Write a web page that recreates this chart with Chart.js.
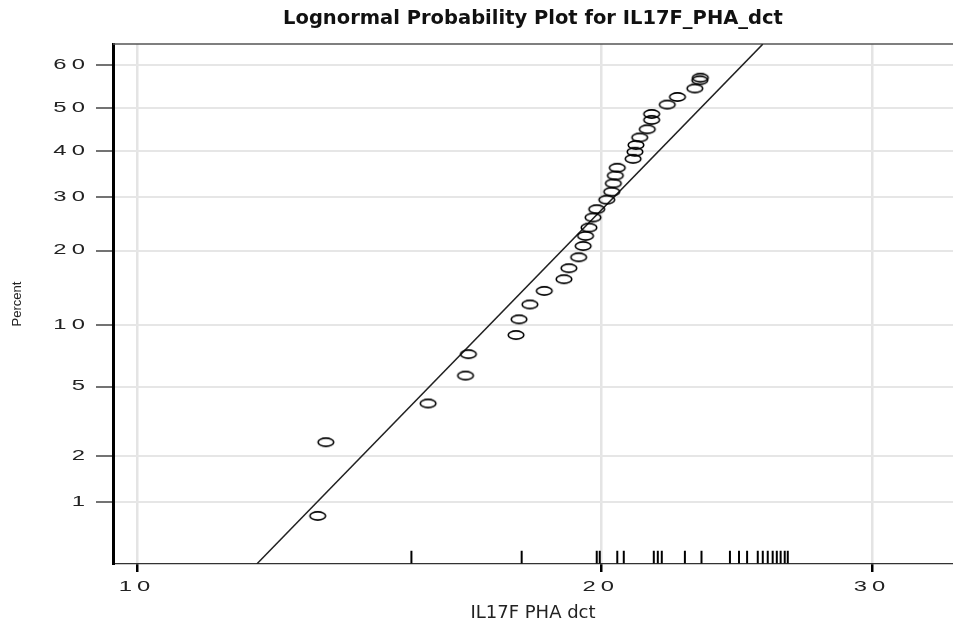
<!DOCTYPE html>
<html>
<head>
<meta charset="utf-8">
<title>Lognormal Probability Plot for IL17F_PHA_dct</title>
<script src="https://cdn.jsdelivr.net/npm/chart.js@4.4.1/dist/chart.umd.min.js"></script>
<style>
  html, body { margin: 0; padding: 0; background: #fff; }
  #plot { display: block; }
</style>
</head>
<body>
<canvas id="plot" width="953" height="626"></canvas>
<script>
// plotted points (value, cumulative percent)
const circleX = [13.10, 13.26, 15.45, 16.34, 16.41, 17.62, 17.70, 17.99, 18.38, 18.93,
                 19.07, 19.35, 19.48, 19.55, 19.65, 19.77, 19.88, 20.18, 20.33, 20.38,
                 20.44, 20.50, 20.99, 21.05, 21.08, 21.20, 21.44, 21.58, 21.58, 22.09,
                 22.43, 23.02, 23.19, 23.21];
const circlePct = [0.80, 2.42, 4.05, 5.7, 7.3, 9.0, 10.6, 12.3, 14.0, 15.6,
                   17.2, 18.9, 20.75, 22.5, 24.0, 25.9, 27.5, 29.4, 31.05, 32.8,
                   34.5, 36.2, 38.2, 39.8, 41.35, 43.1, 45.0, 47.2, 48.6, 50.8,
                   52.6, 54.6, 56.5, 57.1];

// rug marks along the bottom
const rugX = [15.07, 17.77, 19.88, 19.97, 20.50, 20.70, 21.65, 21.78, 21.91, 22.68,
              23.25, 24.26, 24.59, 24.89, 25.29, 25.48, 25.67, 25.86, 26.02, 26.17,
              26.33, 26.45];
const rugLevel = 0.4; // percent

// fitted lognormal line (two ends)
const fitX = [11.96, 25.48];
const fitPct = [0.354, 64.7];

// axes
const xTicks = [10, 20, 30];
const xRange = [9.647, 33.86];
const pctTicks = [1, 2, 5, 10, 20, 30, 40, 50, 60];
const pctRange = [0.354, 64.73];

// inverse normal cdf (Acklam)
function probit(p) {
  const a = [-3.969683028665376e+01, 2.209460984245205e+02, -2.759285104469687e+02,
             1.383577518672690e+02, -3.066479806614716e+01, 2.506628277459239e+00];
  const b = [-5.447609879822406e+01, 1.615858368580409e+02, -1.556989798598866e+02,
             6.680131188771972e+01, -1.328068155288572e+01];
  const c = [-7.784894002430293e-03, -3.223964580411365e-01, -2.400758277161838e+00,
             -2.549732539343734e+00, 4.374664141464968e+00, 2.938163982698783e+00];
  const d = [7.784695709041462e-03, 3.224671290700398e-01, 2.445134137142996e+00,
             3.754408661907416e+00];
  const pl = 0.02425;
  let q, r;
  if (p < pl) {
    q = Math.sqrt(-2 * Math.log(p));
    return (((((c[0]*q+c[1])*q+c[2])*q+c[3])*q+c[4])*q+c[5]) / ((((d[0]*q+d[1])*q+d[2])*q+d[3])*q+1);
  }
  if (p <= 1 - pl) {
    q = p - 0.5; r = q * q;
    return (((((a[0]*r+a[1])*r+a[2])*r+a[3])*r+a[4])*r+a[5])*q / (((((b[0]*r+b[1])*r+b[2])*r+b[3])*r+b[4])*r+1);
  }
  q = Math.sqrt(-2 * Math.log(1 - p));
  return -(((((c[0]*q+c[1])*q+c[2])*q+c[3])*q+c[4])*q+c[5]) / ((((d[0]*q+d[1])*q+d[2])*q+d[3])*q+1);
}
const z = pct => probit(pct / 100);

// tick labels in the original look wide, so draw them stretched sideways
const tickStretch = 1.7;
function drawStretchedTicks(scale) {
  const ctx = scale.ctx;
  for (const item of scale.getLabelItems()) {
    const o = item.options;
    ctx.save();
    ctx.translate(o.translation[0], o.translation[1]);
    ctx.scale(tickStretch, 1);
    ctx.font = item.font.string;
    ctx.fillStyle = o.color;
    ctx.textAlign = o.textAlign;
    ctx.textBaseline = o.textBaseline;
    ctx.letterSpacing = '3px';
    ctx.fillText(item.label, 0, item.textOffset);
    ctx.restore();
  }
}
class WideLinear extends Chart.LinearScale {
  drawLabels() { drawStretchedTicks(this); }
}
WideLinear.id = 'wideLinear';
class WideLog extends Chart.LogarithmicScale {
  drawLabels() { drawStretchedTicks(this); }
}
WideLog.id = 'wideLog';
Chart.register(WideLinear, WideLog);

// open ellipse marker
const marker = document.createElement('canvas');
marker.width = 20; marker.height = 12;
(function () {
  const m = marker.getContext('2d');
  m.strokeStyle = '#000';
  m.lineWidth = 1.6;
  m.beginPath();
  m.ellipse(10, 6, 7.8, 4.1, 0, 0, Math.PI * 2);
  m.stroke();
})();

// thin frame line on top of the plot area
const topFrame = {
  id: 'topFrame',
  beforeDatasetsDraw(chart) {
    const { ctx, chartArea: a } = chart;
    ctx.save();
    ctx.strokeStyle = '#555';
    ctx.lineWidth = 1.5;
    ctx.beginPath();
    ctx.moveTo(a.left, a.top);
    ctx.lineTo(a.right, a.top);
    ctx.stroke();
    ctx.restore();
  }
};

const tickFont = { family: 'Liberation Sans', size: 14 };

new Chart(document.getElementById('plot'), {
  type: 'scatter',
  data: {
    datasets: [
      {
        label: 'IL17F_PHA_dct',
        data: circleX.map((x, i) => ({ x: x, y: z(circlePct[i]) })),
        pointStyle: marker,
        pointRadius: 8
      },
      {
        type: 'line',
        label: 'Fit',
        data: fitX.map((x, i) => ({ x: x, y: z(fitPct[i]) })),
        borderColor: '#222',
        borderWidth: 1.5,
        pointRadius: 0,
        fill: false
      },
      {
        label: 'Rug',
        data: rugX.map(x => ({ x: x, y: z(rugLevel) })),
        pointStyle: 'line',
        rotation: 90,
        pointRadius: 6.3,
        borderColor: '#000',
        borderWidth: 2
      }
    ]
  },
  options: {
    responsive: false,
    animation: false,
    layout: { padding: 0, autoPadding: false },
    plugins: {
      legend: { display: false },
      tooltip: { enabled: false },
      title: {
        display: true,
        text: 'Lognormal Probability Plot for IL17F_PHA_dct',
        fullSize: false,
        color: '#111',
        font: { family: 'DejaVu Sans', size: 19.5, weight: 'bold' },
        padding: { top: 7, bottom: 13.6 }
      }
    },
    scales: {
      x: {
        type: 'wideLog',
        min: xRange[0],
        max: xRange[1],
        afterBuildTicks: s => { s.ticks = xTicks.map(v => ({ value: v })); },
        afterFit: s => { s.height = 62; },
        ticks: { callback: v => String(v), font: tickFont, color: '#222', padding: 7, autoSkip: false, maxRotation: 0 },
        grid: { color: '#e4e4e4', lineWidth: 2.5, tickColor: '#000', tickWidth: 2.5, tickLength: 8 },
        border: { color: '#333', width: 1.2 },
        title: {
          display: true,
          text: 'IL17F PHA dct',
          color: '#222',
          font: { family: 'DejaVu Sans', size: 18 },
          padding: { top: 0, bottom: 2 }
        }
      },
      y: {
        type: 'wideLinear',
        min: z(pctRange[0]),
        max: z(pctRange[1]),
        afterBuildTicks: s => { s.ticks = pctTicks.map(p => ({ value: z(p) })); },
        afterFit: s => { s.width = 113; },
        ticks: { callback: (v, i) => String(pctTicks[i]), font: tickFont, color: '#222', padding: 6 },
        grid: { color: '#e6e6e6', lineWidth: 2, tickColor: '#444', tickWidth: 1.5, tickLength: 17 },
        border: { color: '#000', width: 3 },
        title: {
          display: true,
          text: 'Percent',
          color: '#222',
          font: { family: 'Liberation Sans', size: 13 },
          padding: { top: 10, bottom: 0 }
        }
      }
    }
  },
  plugins: [topFrame]
});
</script>
</body>
</html>
